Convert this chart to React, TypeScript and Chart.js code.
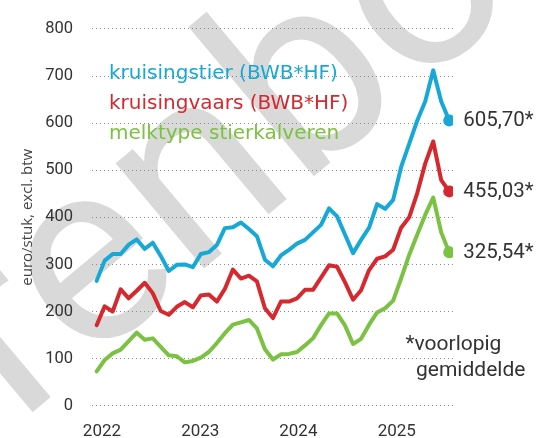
import React, { useEffect, useRef } from "react";
import { Chart, registerables } from "chart.js";

Chart.register(...registerables);

// ---- data ----
const months = [
  "2022-01","2022-02","2022-03","2022-04","2022-05","2022-06","2022-07","2022-08","2022-09","2022-10","2022-11","2022-12",
  "2023-01","2023-02","2023-03","2023-04","2023-05","2023-06","2023-07","2023-08","2023-09","2023-10","2023-11","2023-12",
  "2024-01","2024-02","2024-03","2024-04","2024-05","2024-06","2024-07","2024-08","2024-09","2024-10","2024-11","2024-12",
  "2025-01","2025-02","2025-03","2025-04","2025-05","2025-06","2025-07","2025-08","2025-09",
];

const seriesNames = [
  "kruisingstier (BWB*HF)",
  "kruisingvaars (BWB*HF)",
  "melktype stierkalveren",
];

const kruisingstier = [
  265, 308, 322, 322, 342, 353, 333, 346, 318, 286, 299, 300,
  294, 322, 326, 341, 377, 379, 389, 375, 360, 310, 296, 319,
  331, 344, 352, 368, 384, 419, 402, 363, 324, 352, 378, 428,
  418, 437, 507, 556, 605, 646, 712, 646, 605.70,
];

const kruisingvaars = [
  171, 211, 200, 247, 228, 244, 261, 239, 201, 193, 210, 220,
  209, 234, 236, 221, 248, 289, 270, 276, 264, 207, 186, 221,
  221, 228, 246, 246, 272, 298, 295, 262, 225, 245, 288, 312,
  317, 331, 378, 400, 451, 514, 561, 479, 455.03,
];

const melktype = [
  73, 97, 111, 119, 137, 155, 140, 143, 125, 107, 105, 92,
  95, 102, 114, 133, 154, 172, 177, 182, 164, 120, 98, 109,
  110, 114, 128, 143, 171, 196, 196, 170, 131, 142, 172, 198,
  207, 223, 270, 320, 363, 405, 442, 368, 325.54,
];

const yearLabels = ["2022", "2023", "2024", "2025"];
const yearTickMonths = [0.66, 12.93, 25.17, 37.45];
const yMin = 0;
const yMax = 800;
const yStep = 100;
const yTitle = "euro/stuk, excl. btw";
const footnote = ["*voorlopig", "gemiddelde"];
const watermark = "Boerenbond";

const colors = ["#17a8d6", "#d6282f", "#7bc142"];
const seriesValues = [kruisingstier, kruisingvaars, melktype];

const fmt = (v: number) => v.toFixed(2).replace(".", ",") + "*";

const annotationPlugin = {
  id: "annotations",
  beforeDraw(chart: any) {
    const { ctx } = chart;
    ctx.save();
    const size = 260;
    ctx.font = `${size}px "Roboto"`;
    ctx.fillStyle = "#d9d9d9";
    const pre = ctx.measureText("Boer").width;
    const we = ctx.measureText("e").width;
    ctx.translate(95, 270);
    ctx.rotate((-40 * Math.PI) / 180);
    ctx.textBaseline = "alphabetic";
    ctx.fillText(watermark, -(pre + we / 2), 0.265 * size);
    ctx.restore();
  },
  afterDatasetsDraw(chart: any) {
    const { ctx } = chart;
    const xs = chart.scales.x;
    const ys = chart.scales.y;
    ctx.save();
    // legend
    ctx.font = '20px "DejaVu Sans"';
    ctx.textBaseline = "alphabetic";
    ctx.textAlign = "left";
    const legendY = [79, 109, 138.5];
    seriesNames.forEach((name, i) => {
      ctx.fillStyle = colors[i];
      ctx.fillText(name, 109, legendY[i]);
    });
    // end labels
    ctx.font = '20.5px "Roboto"';
    ctx.fillStyle = "#333333";
    seriesValues.forEach((vals) => {
      const last = vals.length - 1;
      const px = xs.getPixelForValue(last);
      const py = ys.getPixelForValue(vals[last]);
      ctx.fillText(fmt(vals[last]), px + 14, py + 6);
    });
    // footnote
    ctx.font = '21px "Roboto"';
    ctx.fillText(footnote[0], 405.5, 350);
    ctx.fillText(footnote[1], 416, 375.7);
    ctx.restore();
  },
};

export default function App() {
  const ref = useRef<HTMLCanvasElement>(null);
  useEffect(() => {
    document.body.style.margin = "0";
    const datasets = seriesValues.map((vals, i) => ({
      label: seriesNames[i],
      data: vals.map((v, j) => ({ x: j, y: v })),
      borderColor: colors[i],
      backgroundColor: colors[i],
      borderWidth: 4,
      borderJoinStyle: "round" as const,
      borderCapStyle: "round" as const,
      tension: 0,
      pointStyle: "circle" as const,
      pointRadius: (c: any) => (c.dataIndex === vals.length - 1 ? 6 : 0),
      pointHoverRadius: 0,
      pointBorderWidth: 0,
      pointBackgroundColor: colors[i],
    }));
    const chart = new Chart(ref.current!, {
      type: "line",
      data: { labels: months, datasets },
      plugins: [annotationPlugin],
      options: {
        animation: false,
        responsive: false,
        devicePixelRatio: 1,
        layout: { padding: { left: 0, top: 23.3, right: 94, bottom: 0 } },
        plugins: { legend: { display: false }, tooltip: { enabled: false } },
        scales: {
          x: {
            type: "linear",
            min: -0.58,
            max: 44.47,
            grid: { display: false, drawTicks: false },
            border: { display: false },
            afterBuildTicks: (s: any) => {
              s.ticks = yearTickMonths.map((v) => ({ value: v }));
            },
            afterFit: (s: any) => {
              s.height = 32.3;
            },
            ticks: {
              autoSkip: false,
              maxRotation: 0,
              padding: 15.5,
              color: "#333333",
              font: { family: "Roboto", size: 17 },
              callback: (_v: any, i: number) => yearLabels[i] ?? "",
            },
          },
          y: {
            min: yMin,
            max: yMax,
            grid: { color: "#8a8a8a", lineWidth: 1, drawTicks: false },
            border: { display: false, dash: [1, 3] },
            afterFit: (s: any) => {
              s.width = 92;
            },
            title: {
              display: true,
              text: yTitle,
              color: "#444444",
              font: { family: "Open Sans", size: 15 },
              padding: { top: 18.5, bottom: 0 },
            },
            ticks: {
              stepSize: yStep,
              padding: 19,
              color: "#333333",
              font: { family: "Roboto", size: 16.5 },
            },
          },
        },
      },
    });
    return () => chart.destroy();
  }, []);
  return (
    <div style={{ width: 547, height: 438 }}>
      <canvas ref={ref} width={547} height={438} style={{ display: "block" }} />
    </div>
  );
}
